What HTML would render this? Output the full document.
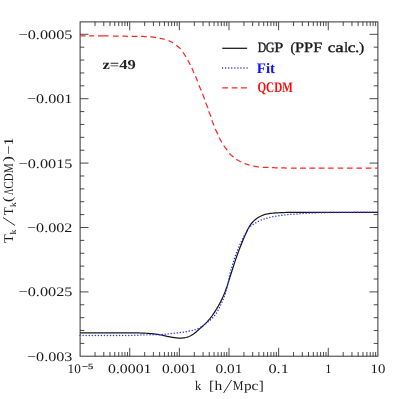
<!DOCTYPE html>
<html><head><meta charset="utf-8"><title>chart</title>
<style>
html,body{margin:0;padding:0;background:#fff;}
body{width:399px;height:399px;position:relative;overflow:hidden;font-family:"Liberation Serif",serif;}
</style></head><body>
<svg width="399" height="399" viewBox="0 0 399 399" style="position:absolute;left:0;top:0;will-change:transform">
<rect width="399" height="399" fill="#fff"/>
<path d="M95.04,356.2 v-4.2 M95.04,21.9 v4.2 M103.78,356.2 v-4.2 M103.78,21.9 v4.2 M109.98,356.2 v-4.2 M109.98,21.9 v4.2 M114.79,356.2 v-4.2 M114.79,21.9 v4.2 M118.72,356.2 v-4.2 M118.72,21.9 v4.2 M122.05,356.2 v-4.2 M122.05,21.9 v4.2 M124.92,356.2 v-4.2 M124.92,21.9 v4.2 M127.46,356.2 v-4.2 M127.46,21.9 v4.2 M129.73,356.2 v-8.4 M129.73,21.9 v8.4 M144.67,356.2 v-4.2 M144.67,21.9 v4.2 M153.41,356.2 v-4.2 M153.41,21.9 v4.2 M159.62,356.2 v-4.2 M159.62,21.9 v4.2 M164.43,356.2 v-4.2 M164.43,21.9 v4.2 M168.36,356.2 v-4.2 M168.36,21.9 v4.2 M171.68,356.2 v-4.2 M171.68,21.9 v4.2 M174.56,356.2 v-4.2 M174.56,21.9 v4.2 M177.10,356.2 v-4.2 M177.10,21.9 v4.2 M179.37,356.2 v-8.4 M179.37,21.9 v8.4 M194.31,356.2 v-4.2 M194.31,21.9 v4.2 M203.05,356.2 v-4.2 M203.05,21.9 v4.2 M209.25,356.2 v-4.2 M209.25,21.9 v4.2 M214.06,356.2 v-4.2 M214.06,21.9 v4.2 M217.99,356.2 v-4.2 M217.99,21.9 v4.2 M221.31,356.2 v-4.2 M221.31,21.9 v4.2 M224.19,356.2 v-4.2 M224.19,21.9 v4.2 M226.73,356.2 v-4.2 M226.73,21.9 v4.2 M229.00,356.2 v-8.4 M229.00,21.9 v8.4 M243.94,356.2 v-4.2 M243.94,21.9 v4.2 M252.68,356.2 v-4.2 M252.68,21.9 v4.2 M258.88,356.2 v-4.2 M258.88,21.9 v4.2 M263.69,356.2 v-4.2 M263.69,21.9 v4.2 M267.62,356.2 v-4.2 M267.62,21.9 v4.2 M270.95,356.2 v-4.2 M270.95,21.9 v4.2 M273.82,356.2 v-4.2 M273.82,21.9 v4.2 M276.36,356.2 v-4.2 M276.36,21.9 v4.2 M278.63,356.2 v-8.4 M278.63,21.9 v8.4 M293.57,356.2 v-4.2 M293.57,21.9 v4.2 M302.31,356.2 v-4.2 M302.31,21.9 v4.2 M308.52,356.2 v-4.2 M308.52,21.9 v4.2 M313.33,356.2 v-4.2 M313.33,21.9 v4.2 M317.26,356.2 v-4.2 M317.26,21.9 v4.2 M320.58,356.2 v-4.2 M320.58,21.9 v4.2 M323.46,356.2 v-4.2 M323.46,21.9 v4.2 M326.00,356.2 v-4.2 M326.00,21.9 v4.2 M328.27,356.2 v-8.4 M328.27,21.9 v8.4 M343.21,356.2 v-4.2 M343.21,21.9 v4.2 M351.95,356.2 v-4.2 M351.95,21.9 v4.2 M358.15,356.2 v-4.2 M358.15,21.9 v4.2 M362.96,356.2 v-4.2 M362.96,21.9 v4.2 M366.89,356.2 v-4.2 M366.89,21.9 v4.2 M370.21,356.2 v-4.2 M370.21,21.9 v4.2 M373.09,356.2 v-4.2 M373.09,21.9 v4.2 M375.63,356.2 v-4.2 M375.63,21.9 v4.2 M80.1,343.42 h4.2 M377.9,343.42 h-4.2 M80.1,330.54 h4.2 M377.9,330.54 h-4.2 M80.1,317.66 h4.2 M377.9,317.66 h-4.2 M80.1,304.78 h4.2 M377.9,304.78 h-4.2 M80.1,291.90 h8.4 M377.9,291.90 h-8.4 M80.1,279.02 h4.2 M377.9,279.02 h-4.2 M80.1,266.14 h4.2 M377.9,266.14 h-4.2 M80.1,253.26 h4.2 M377.9,253.26 h-4.2 M80.1,240.38 h4.2 M377.9,240.38 h-4.2 M80.1,227.50 h8.4 M377.9,227.50 h-8.4 M80.1,214.62 h4.2 M377.9,214.62 h-4.2 M80.1,201.74 h4.2 M377.9,201.74 h-4.2 M80.1,188.86 h4.2 M377.9,188.86 h-4.2 M80.1,175.98 h4.2 M377.9,175.98 h-4.2 M80.1,163.10 h8.4 M377.9,163.10 h-8.4 M80.1,150.22 h4.2 M377.9,150.22 h-4.2 M80.1,137.34 h4.2 M377.9,137.34 h-4.2 M80.1,124.46 h4.2 M377.9,124.46 h-4.2 M80.1,111.58 h4.2 M377.9,111.58 h-4.2 M80.1,98.70 h8.4 M377.9,98.70 h-8.4 M80.1,85.82 h4.2 M377.9,85.82 h-4.2 M80.1,72.94 h4.2 M377.9,72.94 h-4.2 M80.1,60.06 h4.2 M377.9,60.06 h-4.2 M80.1,47.18 h4.2 M377.9,47.18 h-4.2 M80.1,34.30 h8.4 M377.9,34.30 h-8.4" stroke="#2a2a2a" stroke-width="0.85" fill="none"/>
<rect x="80.1" y="21.9" width="297.80" height="334.30" fill="none" stroke="#2a2a2a" stroke-width="0.95"/>
<path d="M80.10,332.90 L81.10,332.90 L82.10,332.89 L83.10,332.89 L84.10,332.88 L85.10,332.88 L86.10,332.87 L87.10,332.87 L88.10,332.87 L89.10,332.86 L90.10,332.86 L91.10,332.86 L92.10,332.85 L93.10,332.85 L94.10,332.84 L95.10,332.84 L96.10,332.84 L97.10,332.84 L98.10,332.83 L99.10,332.83 L100.10,332.83 L101.10,332.82 L102.10,332.82 L103.10,332.82 L104.10,332.82 L105.10,332.82 L106.10,332.81 L107.10,332.81 L108.10,332.81 L109.10,332.81 L110.10,332.81 L111.10,332.81 L112.10,332.80 L113.10,332.80 L114.10,332.80 L115.10,332.80 L116.10,332.80 L117.10,332.80 L118.10,332.80 L119.10,332.80 L120.10,332.80 L121.10,332.80 L122.10,332.80 L123.10,332.80 L124.10,332.80 L125.10,332.80 L126.10,332.80 L127.10,332.80 L128.10,332.80 L129.10,332.80 L130.10,332.80 L131.10,332.80 L132.10,332.81 L133.10,332.83 L134.10,332.84 L135.10,332.87 L136.10,332.89 L137.10,332.92 L138.10,332.95 L139.10,332.97 L140.10,333.00 L141.10,333.03 L142.10,333.07 L143.10,333.11 L144.10,333.15 L145.10,333.20 L146.10,333.25 L147.10,333.31 L148.10,333.37 L149.10,333.44 L150.10,333.51 L151.10,333.59 L152.10,333.68 L153.10,333.79 L154.10,333.91 L155.10,334.04 L156.10,334.18 L157.10,334.33 L158.10,334.49 L159.10,334.65 L160.10,334.82 L161.10,335.01 L162.10,335.23 L163.10,335.47 L164.10,335.70 L165.10,335.92 L166.10,336.13 L167.10,336.34 L168.10,336.54 L169.10,336.73 L170.10,336.92 L171.10,337.10 L172.10,337.28 L173.10,337.44 L174.10,337.59 L175.10,337.71 L176.10,337.82 L177.10,337.93 L178.10,338.02 L179.10,338.08 L180.10,338.10 L181.10,338.08 L182.10,338.04 L183.10,337.97 L184.10,337.89 L185.10,337.74 L186.10,337.50 L187.10,337.20 L188.10,336.87 L189.10,336.47 L190.10,335.98 L191.10,335.43 L192.10,334.84 L193.10,334.19 L194.10,333.48 L195.10,332.71 L196.10,331.92 L197.10,331.09 L198.10,330.21 L199.10,329.31 L200.10,328.41 L201.10,327.54 L202.10,326.67 L203.10,325.78 L204.10,324.87 L205.10,323.90 L206.10,322.89 L207.10,321.84 L208.10,320.74 L209.10,319.58 L210.10,318.38 L211.10,317.10 L212.10,315.75 L213.10,314.33 L214.10,312.86 L215.10,311.35 L216.10,309.78 L217.10,308.15 L218.10,306.45 L219.10,304.67 L220.10,302.81 L221.10,300.85 L222.10,298.78 L223.10,296.59 L224.10,294.26 L225.10,291.75 L226.10,289.06 L227.10,286.21 L228.10,283.13 L229.10,279.90 L230.10,276.68 L231.10,273.52 L232.10,270.36 L233.10,267.23 L234.10,264.15 L235.10,261.09 L236.10,258.09 L237.10,255.22 L238.10,252.48 L239.10,249.83 L240.10,247.26 L241.10,244.75 L242.10,242.28 L243.10,239.85 L244.10,237.51 L245.10,235.28 L246.10,233.08 L247.10,230.89 L248.10,228.82 L249.10,226.94 L250.10,225.36 L251.10,223.98 L252.10,222.73 L253.10,221.60 L254.10,220.60 L255.10,219.72 L256.10,218.93 L257.10,218.21 L258.10,217.56 L259.10,216.97 L260.10,216.45 L261.10,215.97 L262.10,215.52 L263.10,215.12 L264.10,214.77 L265.10,214.47 L266.10,214.22 L267.10,214.00 L268.10,213.80 L269.10,213.63 L270.10,213.49 L271.10,213.36 L272.10,213.25 L273.10,213.15 L274.10,213.07 L275.10,212.99 L276.10,212.93 L277.10,212.86 L278.10,212.80 L279.10,212.75 L280.10,212.69 L281.10,212.65 L282.10,212.60 L283.10,212.56 L284.10,212.53 L285.10,212.50 L286.10,212.47 L287.10,212.44 L288.10,212.41 L289.10,212.39 L290.10,212.36 L291.10,212.34 L292.10,212.32 L293.10,212.31 L294.10,212.30 L295.10,212.30 L296.10,212.30 L297.10,212.30 L298.10,212.30 L299.10,212.30 L300.10,212.30 L301.10,212.30 L302.10,212.30 L303.10,212.30 L304.10,212.30 L305.10,212.30 L306.10,212.30 L307.10,212.30 L308.10,212.30 L309.10,212.30 L310.10,212.30 L311.10,212.30 L312.10,212.30 L313.10,212.30 L314.10,212.30 L315.10,212.30 L316.10,212.30 L317.10,212.30 L318.10,212.30 L319.10,212.30 L320.10,212.30 L321.10,212.30 L322.10,212.30 L323.10,212.30 L324.10,212.30 L325.10,212.30 L326.10,212.30 L327.10,212.30 L328.10,212.30 L329.10,212.30 L330.10,212.30 L331.10,212.30 L332.10,212.30 L333.10,212.30 L334.10,212.30 L335.10,212.30 L336.10,212.30 L337.10,212.30 L338.10,212.30 L339.10,212.30 L340.10,212.30 L341.10,212.30 L342.10,212.30 L343.10,212.30 L344.10,212.30 L345.10,212.30 L346.10,212.30 L347.10,212.30 L348.10,212.30 L349.10,212.30 L350.10,212.30 L351.10,212.30 L352.10,212.30 L353.10,212.30 L354.10,212.30 L355.10,212.30 L356.10,212.30 L357.10,212.30 L358.10,212.30 L359.10,212.30 L360.10,212.30 L361.10,212.30 L362.10,212.30 L363.10,212.30 L364.10,212.30 L365.10,212.30 L366.10,212.30 L367.10,212.30 L368.10,212.30 L369.10,212.30 L370.10,212.30 L371.10,212.30 L372.10,212.30 L373.10,212.30 L374.10,212.30 L375.10,212.30 L376.10,212.30 L377.90,212.30" stroke="#181818" stroke-width="1.25" fill="none" stroke-linejoin="round"/>
<path d="M80.10,335.50 L81.10,335.50 L82.10,335.49 L83.10,335.49 L84.10,335.48 L85.10,335.48 L86.10,335.47 L87.10,335.47 L88.10,335.47 L89.10,335.46 L90.10,335.46 L91.10,335.46 L92.10,335.45 L93.10,335.45 L94.10,335.44 L95.10,335.44 L96.10,335.44 L97.10,335.44 L98.10,335.43 L99.10,335.43 L100.10,335.43 L101.10,335.42 L102.10,335.42 L103.10,335.42 L104.10,335.42 L105.10,335.42 L106.10,335.41 L107.10,335.41 L108.10,335.41 L109.10,335.41 L110.10,335.41 L111.10,335.41 L112.10,335.40 L113.10,335.40 L114.10,335.40 L115.10,335.40 L116.10,335.40 L117.10,335.40 L118.10,335.40 L119.10,335.40 L120.10,335.40 L121.10,335.40 L122.10,335.40 L123.10,335.40 L124.10,335.40 L125.10,335.40 L126.10,335.40 L127.10,335.40 L128.10,335.40 L129.10,335.40 L130.10,335.40 L131.10,335.39 L132.10,335.38 L133.10,335.35 L134.10,335.32 L135.10,335.28 L136.10,335.24 L137.10,335.20 L138.10,335.17 L139.10,335.13 L140.10,335.10 L141.10,335.07 L142.10,335.03 L143.10,335.00 L144.10,334.96 L145.10,334.93 L146.10,334.90 L147.10,334.87 L148.10,334.84 L149.10,334.82 L150.10,334.80 L151.10,334.79 L152.10,334.78 L153.10,334.77 L154.10,334.76 L155.10,334.76 L156.10,334.75 L157.10,334.74 L158.10,334.73 L159.10,334.72 L160.10,334.70 L161.10,334.64 L162.10,334.55 L163.10,334.43 L164.10,334.30 L165.10,334.19 L166.10,334.09 L167.10,333.99 L168.10,333.89 L169.10,333.79 L170.10,333.69 L171.10,333.59 L172.10,333.49 L173.10,333.40 L174.10,333.30 L175.10,333.19 L176.10,333.08 L177.10,332.96 L178.10,332.84 L179.10,332.72 L180.10,332.59 L181.10,332.46 L182.10,332.33 L183.10,332.19 L184.10,332.04 L185.10,331.88 L186.10,331.71 L187.10,331.51 L188.10,331.31 L189.10,331.10 L190.10,330.88 L191.10,330.66 L192.10,330.44 L193.10,330.21 L194.10,329.96 L195.10,329.67 L196.10,329.33 L197.10,328.94 L198.10,328.51 L199.10,328.05 L200.10,327.55 L201.10,326.99 L202.10,326.36 L203.10,325.68 L204.10,324.95 L205.10,324.12 L206.10,323.25 L207.10,322.42 L208.10,321.66 L209.10,320.93 L210.10,320.18 L211.10,319.36 L212.10,318.43 L213.10,317.40 L214.10,316.28 L215.10,315.03 L216.10,313.64 L217.10,312.01 L218.10,310.23 L219.10,308.37 L220.10,306.36 L221.10,304.22 L222.10,301.95 L223.10,299.51 L224.10,296.95 L225.10,294.20 L226.10,291.08 L227.10,287.53 L228.10,283.06 L229.10,277.43 L230.10,273.00 L231.10,269.52 L232.10,266.31 L233.10,262.98 L234.10,259.61 L235.10,256.44 L236.10,253.66 L237.10,251.15 L238.10,248.81 L239.10,246.57 L240.10,244.32 L241.10,242.06 L242.10,239.84 L243.10,237.71 L244.10,235.73 L245.10,233.92 L246.10,232.15 L247.10,230.45 L248.10,228.89 L249.10,227.56 L250.10,226.51 L251.10,225.69 L252.10,225.00 L253.10,224.39 L254.10,223.82 L255.10,223.24 L256.10,222.65 L257.10,222.07 L258.10,221.52 L259.10,221.01 L260.10,220.56 L261.10,220.15 L262.10,219.77 L263.10,219.42 L264.10,219.09 L265.10,218.77 L266.10,218.46 L267.10,218.17 L268.10,217.89 L269.10,217.63 L270.10,217.38 L271.10,217.13 L272.10,216.89 L273.10,216.67 L274.10,216.46 L275.10,216.28 L276.10,216.13 L277.10,215.98 L278.10,215.85 L279.10,215.72 L280.10,215.59 L281.10,215.44 L282.10,215.29 L283.10,215.15 L284.10,215.01 L285.10,214.89 L286.10,214.77 L287.10,214.67 L288.10,214.56 L289.10,214.47 L290.10,214.39 L291.10,214.33 L292.10,214.27 L293.10,214.21 L294.10,214.16 L295.10,214.09 L296.10,214.02 L297.10,213.94 L298.10,213.85 L299.10,213.76 L300.10,213.67 L301.10,213.58 L302.10,213.49 L303.10,213.42 L304.10,213.35 L305.10,213.30 L306.10,213.25 L307.10,213.20 L308.10,213.16 L309.10,213.12 L310.10,213.09 L311.10,213.05 L312.10,213.02 L313.10,212.99 L314.10,212.96 L315.10,212.93 L316.10,212.90 L317.10,212.87 L318.10,212.85 L319.10,212.82 L320.10,212.80 L321.10,212.77 L322.10,212.75 L323.10,212.72 L324.10,212.69 L325.10,212.67 L326.10,212.64 L327.10,212.62 L328.10,212.59 L329.10,212.57 L330.10,212.55 L331.10,212.53 L332.10,212.50 L333.10,212.49 L334.10,212.47 L335.10,212.45 L336.10,212.44 L337.10,212.42 L338.10,212.41 L339.10,212.41 L340.10,212.40 L341.10,212.39 L342.10,212.39 L343.10,212.38 L344.10,212.38 L345.10,212.38 L346.10,212.37 L347.10,212.37 L348.10,212.36 L349.10,212.36 L350.10,212.36 L351.10,212.35 L352.10,212.35 L353.10,212.34 L354.10,212.34 L355.10,212.34 L356.10,212.33 L357.10,212.33 L358.10,212.33 L359.10,212.33 L360.10,212.32 L361.10,212.32 L362.10,212.32 L363.10,212.32 L364.10,212.31 L365.10,212.31 L366.10,212.31 L367.10,212.31 L368.10,212.31 L369.10,212.31 L370.10,212.30 L371.10,212.30 L372.10,212.30 L373.10,212.30 L374.10,212.30 L375.10,212.30 L376.10,212.30 L377.90,212.30" stroke="#2626ff" stroke-width="1.45" stroke-dasharray="0.01 3.03" stroke-linecap="round" fill="none"/>
<path d="M80.00,35.90 L80.50,35.90 L81.00,35.90 L81.50,35.90 L82.00,35.90 L82.50,35.90 L83.00,35.90 L83.50,35.90 L84.00,35.90 L84.50,35.90 L85.00,35.90 L85.50,35.90 M89.25,35.90 L89.75,35.90 L90.25,35.90 L90.75,35.90 L91.25,35.90 L91.75,35.90 L92.25,35.90 L92.75,35.90 L93.25,35.90 L93.75,35.90 L94.25,35.90 M98.00,35.90 L98.50,35.90 L99.01,35.90 L99.51,35.90 L100.02,35.90 L100.52,35.90 L101.03,35.90 L101.53,35.90 L102.04,35.91 L102.54,35.91 L103.05,35.91 L103.55,35.91 L104.06,35.92 L104.56,35.92 L105.07,35.93 L105.57,35.93 L106.08,35.94 L106.58,35.95 L107.09,35.95 L107.59,35.96 L108.10,35.97 L108.60,35.98 M113.00,36.05 L113.51,36.06 L114.02,36.07 L114.53,36.08 L115.04,36.09 L115.55,36.10 L116.05,36.11 L116.56,36.12 L117.07,36.12 L117.58,36.13 L118.09,36.14 L118.60,36.15 M122.40,36.20 L122.91,36.21 L123.42,36.22 L123.93,36.22 L124.44,36.23 L124.95,36.23 L125.45,36.24 L125.96,36.25 L126.47,36.25 L126.98,36.26 L127.49,36.26 L128.00,36.27 M131.75,36.31 L132.26,36.31 L132.78,36.32 L133.29,36.33 L133.80,36.33 L134.32,36.34 L134.83,36.35 L135.35,36.35 L135.86,36.36 L136.37,36.37 L136.89,36.37 L137.40,36.38 M141.10,36.44 L141.61,36.45 L142.13,36.46 L142.64,36.47 L143.15,36.48 L143.67,36.49 L144.18,36.51 L144.70,36.52 L145.21,36.54 L145.72,36.56 L146.24,36.59 L146.75,36.61 M150.25,36.85 L150.78,36.90 L151.31,36.94 L151.85,36.99 L152.38,37.04 L152.91,37.09 L153.44,37.15 L153.97,37.21 L154.50,37.28 L155.04,37.35 L155.57,37.43 L156.10,37.52 M159.60,38.17 L160.12,38.27 L160.63,38.38 L161.14,38.49 L161.66,38.61 L162.18,38.73 L162.69,38.86 L163.20,38.99 L163.72,39.12 L164.24,39.26 L164.75,39.40 M168.50,40.60 L169.01,40.80 L169.52,41.02 L170.03,41.25 L170.54,41.50 L171.06,41.75 L171.57,42.02 L172.08,42.30 L172.59,42.60 L173.10,42.90 M176.25,45.25 L176.79,45.68 L177.34,46.10 L177.88,46.52 L178.43,46.96 L178.97,47.42 L179.51,47.90 L180.06,48.43 L180.60,49.00 M182.90,52.25 L183.42,53.00 L183.93,53.75 L184.45,54.50 L184.97,55.28 L185.48,56.07 L186.00,56.90 M187.75,60.00 L188.28,60.97 L188.81,61.95 L189.34,62.95 L189.87,63.96 L190.40,65.00 M191.90,68.10 L192.43,69.31 L192.95,70.59 L193.47,71.88 L194.00,73.10 M195.50,76.25 L196.03,77.43 L196.55,78.65 L197.07,79.92 L197.60,81.26 M199.00,85.25 L199.56,86.65 L200.12,87.97 L200.69,89.26 L201.25,90.60 M202.50,93.75 L203.03,95.11 L203.55,96.49 L204.07,97.91 L204.60,99.40 M205.60,102.50 L206.18,103.94 L206.75,105.22 L207.32,106.54 L207.90,108.10 M208.75,111.25 L209.31,112.79 L209.88,114.09 L210.44,115.39 L211.00,116.90 M211.90,120.10 L212.43,121.58 L212.95,122.89 L213.47,124.16 L214.00,125.50 M215.25,129.00 L215.78,130.15 L216.31,131.17 L216.84,132.13 L217.37,133.13 L217.90,134.25 M219.10,137.40 L219.66,138.55 L220.22,139.58 L220.78,140.53 L221.34,141.46 L221.90,142.40 M223.75,145.50 L224.25,146.23 L224.75,146.93 L225.25,147.59 L225.75,148.25 L226.25,148.90 L226.75,149.56 L227.25,150.25 M229.40,153.40 L229.91,153.96 L230.43,154.48 L230.94,154.96 L231.45,155.41 L231.96,155.84 L232.47,156.26 L232.99,156.68 L233.50,157.10 M236.25,159.25 L236.75,159.57 L237.25,159.88 L237.75,160.17 L238.25,160.46 L238.75,160.73 L239.25,160.99 L239.75,161.25 L240.25,161.51 L240.75,161.75 L241.25,162.00 M244.60,163.50 L245.11,163.69 L245.62,163.87 L246.13,164.05 L246.64,164.22 L247.15,164.38 L247.66,164.54 L248.17,164.69 L248.68,164.84 L249.19,164.99 L249.70,165.13 M253.30,166.00 L253.82,166.11 L254.34,166.22 L254.85,166.32 L255.37,166.43 L255.89,166.53 L256.41,166.63 L256.93,166.72 L257.45,166.80 L257.96,166.88 L258.48,166.95 L259.00,167.00 M262.75,167.25 L263.27,167.28 L263.80,167.30 L264.32,167.33 L264.84,167.35 L265.36,167.38 L265.89,167.40 L266.41,167.42 L266.93,167.44 L267.45,167.46 L267.98,167.48 L268.50,167.50 M271.90,167.60 L272.43,167.62 L272.96,167.65 L273.50,167.68 L274.03,167.71 L274.56,167.75 L275.09,167.78 L275.62,167.81 L276.15,167.84 L276.69,167.87 L277.22,167.89 L277.75,167.90 M281.25,167.96 L281.76,167.96 L282.28,167.97 L282.79,167.98 L283.30,167.98 L283.82,167.99 L284.33,167.99 L284.85,167.99 L285.36,168.00 L285.87,168.00 L286.39,168.00 L286.90,168.00 M291.00,168.00 L291.51,168.00 L292.02,168.00 L292.53,168.00 L293.04,168.00 L293.55,168.00 L294.05,168.00 L294.56,168.00 L295.07,168.00 L295.58,168.00 L296.09,168.00 L296.60,168.00 M300.00,168.00 L300.54,168.00 L301.07,168.00 L301.61,168.00 L302.15,168.00 L302.68,168.00 L303.22,168.00 L303.75,168.00 L304.29,168.00 L304.83,168.00 L305.36,168.00 L305.90,168.00 M309.40,168.00 L309.93,168.00 L310.46,168.00 L311.00,168.00 L311.53,168.00 L312.06,168.00 L312.59,168.00 L313.12,168.00 L313.65,168.00 L314.19,168.00 L314.72,168.00 L315.25,168.00 M318.75,168.00 L319.28,168.00 L319.81,168.00 L320.35,168.00 L320.88,168.00 L321.41,168.00 L321.94,168.00 L322.47,168.00 L323.00,168.00 L323.54,168.00 L324.07,168.00 L324.60,168.00 M328.10,168.00 L328.61,168.00 L329.12,168.00 L329.63,168.00 L330.14,168.00 L330.65,168.00 L331.15,168.00 L331.66,168.00 L332.17,168.00 L332.68,168.00 L333.19,168.00 L333.70,168.00 M337.60,168.00 L338.11,168.00 L338.62,168.00 L339.13,168.00 L339.64,168.00 L340.15,168.00 L340.65,168.00 L341.16,168.00 L341.67,168.00 L342.18,168.00 L342.69,168.00 L343.20,168.00 M347.00,168.00 L347.51,168.00 L348.02,168.00 L348.53,168.00 L349.04,168.00 L349.55,168.00 L350.05,168.00 L350.56,168.00 L351.07,168.00 L351.58,168.00 L352.09,168.00 L352.60,168.00 M356.40,168.00 L356.91,168.00 L357.42,168.00 L357.93,168.00 L358.44,168.00 L358.95,168.00 L359.45,168.00 L359.96,168.00 L360.47,168.00 L360.98,168.00 L361.49,168.00 L362.00,168.00 M365.60,168.00 L366.13,168.00 L366.65,168.00 L367.18,168.00 L367.71,168.00 L368.24,168.00 L368.76,168.00 L369.29,168.00 L369.82,168.00 L370.35,168.00 L370.87,168.00 L371.40,168.00 M375.10,168.00 L375.66,168.00 L376.22,168.00 L376.78,168.00 L377.34,168.00 L377.90,168.00" stroke="#ff2626" stroke-width="1.25" fill="none" stroke-linejoin="round"/>
<path d="M222.3,48.3 H247.1" stroke="#151515" stroke-width="1.25"/>
<path d="M222.0,68 H247.6" stroke="#2222ee" stroke-width="1.3" stroke-dasharray="1.1 1.97"/>
<path d="M222.3,87.9 H228.1 M231.7,87.9 H237.5 M240.9,87.9 H246.9" stroke="#ff2626" stroke-width="1.25"/>
<g font-family="Liberation Serif, serif" text-rendering="geometricPrecision">
<text x="18.60000000000001" y="38.8" font-size="13.0" text-anchor="start" fill="#1a1a1a" font-weight="normal" textLength="53.8" lengthAdjust="spacingAndGlyphs">−0.0005</text>
<text x="27.000000000000007" y="103.2" font-size="13.0" text-anchor="start" fill="#1a1a1a" font-weight="normal" textLength="45.4" lengthAdjust="spacingAndGlyphs">−0.001</text>
<text x="18.60000000000001" y="167.6" font-size="13.0" text-anchor="start" fill="#1a1a1a" font-weight="normal" textLength="53.8" lengthAdjust="spacingAndGlyphs">−0.0015</text>
<text x="27.000000000000007" y="232.0" font-size="13.0" text-anchor="start" fill="#1a1a1a" font-weight="normal" textLength="45.4" lengthAdjust="spacingAndGlyphs">−0.002</text>
<text x="18.60000000000001" y="296.4" font-size="13.0" text-anchor="start" fill="#1a1a1a" font-weight="normal" textLength="53.8" lengthAdjust="spacingAndGlyphs">−0.0025</text>
<text x="27.000000000000007" y="360.9" font-size="13.0" text-anchor="start" fill="#1a1a1a" font-weight="normal" textLength="45.4" lengthAdjust="spacingAndGlyphs">−0.003</text>
<text x="108.03" y="372.7" font-size="13.0" text-anchor="start" fill="#1a1a1a" font-weight="normal" textLength="43.4" lengthAdjust="spacingAndGlyphs">0.0001</text>
<text x="161.97" y="372.7" font-size="13.0" text-anchor="start" fill="#1a1a1a" font-weight="normal" textLength="34.8" lengthAdjust="spacingAndGlyphs">0.001</text>
<text x="215.6" y="372.7" font-size="13.0" text-anchor="start" fill="#1a1a1a" font-weight="normal" textLength="26.8" lengthAdjust="spacingAndGlyphs">0.01</text>
<text x="268.43" y="372.7" font-size="13.0" text-anchor="start" fill="#1a1a1a" font-weight="normal" textLength="20.4" lengthAdjust="spacingAndGlyphs">0.1</text>
<text x="325.17" y="372.7" font-size="13.0" text-anchor="start" fill="#1a1a1a" font-weight="normal" textLength="6.2" lengthAdjust="spacingAndGlyphs">1</text>
<text x="370.5" y="372.7" font-size="13.0" text-anchor="start" fill="#1a1a1a" font-weight="normal" textLength="14.8" lengthAdjust="spacingAndGlyphs">10</text>
<text x="67.6" y="372.7" font-size="13.0" text-anchor="start" fill="#1a1a1a" font-weight="normal" textLength="13.2" lengthAdjust="spacingAndGlyphs">10</text>
<text x="82.0" y="369.2" font-size="8.0" text-anchor="start" fill="#1a1a1a" font-weight="normal" textLength="11.2" lengthAdjust="spacingAndGlyphs" stroke="#1a1a1a" stroke-width="0.2">−5</text>
<text x="102.5" y="68.75" font-size="13.5" text-anchor="start" fill="#262626" font-weight="bold" textLength="33.4" lengthAdjust="spacingAndGlyphs">z=49</text>
<text x="256.8" y="72.8" font-size="14.5" text-anchor="start" fill="#1212fa" font-weight="bold" textLength="18.3" lengthAdjust="spacingAndGlyphs">Fit</text>
<text x="257.4" y="91.8" font-size="14.6" text-anchor="start" fill="#fc0c0c" font-weight="bold" textLength="35.4" lengthAdjust="spacingAndGlyphs">QCDM</text>
<g transform="translate(13.0,243) rotate(-90)">
<path d="M17.6,2.0 L25.5,-10.0" stroke="#1a1a1a" stroke-width="0.9" fill="none"/>
<text transform="translate(-0.06,0.00) scale(1.062,1)" font-size="13.4" fill="#1a1a1a">T</text>
<text transform="translate(8.61,3.40) scale(1.134,1)" font-size="8.8" fill="#1a1a1a">k</text>
<text transform="translate(27.66,0.00) scale(0.971,1)" font-size="13.4" fill="#1a1a1a">T</text>
<text transform="translate(36.02,3.40) scale(1.063,1)" font-size="8.8" fill="#1a1a1a">k</text>
<text transform="translate(40.85,-0.80) scale(1.278,1)" font-size="13.4" fill="#1a1a1a">(</text>
<text transform="translate(47.91,0.00) scale(0.656,1)" font-size="13.4" fill="#1a1a1a">Λ</text>
<text transform="translate(54.13,0.00) scale(0.850,1)" font-size="13.4" fill="#1a1a1a">C</text>
<text transform="translate(61.79,0.00) scale(0.811,1)" font-size="13.4" fill="#1a1a1a">D</text>
<text transform="translate(70.09,0.00) scale(0.808,1)" font-size="13.4" fill="#1a1a1a">M</text>
<text transform="translate(81.02,-0.80) scale(1.337,1)" font-size="13.4" fill="#1a1a1a">)</text>
<text transform="translate(88.40,0.00) scale(1.203,1)" font-size="13.4" fill="#1a1a1a">−</text>
<text transform="translate(97.58,0.00) scale(1.208,1)" font-size="13.4" fill="#1a1a1a">1</text>
</g>
<g transform="translate(0,52.3)">
<text transform="translate(257.66,0.00) scale(0.830,1)" font-size="14.2" fill="#1a1a1a" stroke="#1a1a1a" stroke-width="0.36">D</text>
<text transform="translate(265.80,0.00) scale(0.856,1)" font-size="14.2" fill="#1a1a1a" stroke="#1a1a1a" stroke-width="0.36">G</text>
<text transform="translate(274.33,0.00) scale(1.142,1)" font-size="14.2" fill="#1a1a1a" stroke="#1a1a1a" stroke-width="0.36">P</text>
<text transform="translate(290.38,-0.60) scale(0.987,1)" font-size="14.2" fill="#1a1a1a" stroke="#1a1a1a" stroke-width="0.36">(</text>
<text transform="translate(295.03,0.00) scale(1.142,1)" font-size="14.2" fill="#1a1a1a" stroke="#1a1a1a" stroke-width="0.36">P</text>
<text transform="translate(304.03,0.00) scale(1.142,1)" font-size="14.2" fill="#1a1a1a" stroke="#1a1a1a" stroke-width="0.36">P</text>
<text transform="translate(313.13,0.00) scale(1.147,1)" font-size="14.2" fill="#1a1a1a" stroke="#1a1a1a" stroke-width="0.36">F</text>
<text transform="translate(327.75,0.00) scale(1.202,1)" font-size="14.2" fill="#1a1a1a" stroke="#1a1a1a" stroke-width="0.36">c</text>
<text transform="translate(335.23,0.00) scale(1.337,1)" font-size="14.2" fill="#1a1a1a" stroke="#1a1a1a" stroke-width="0.36">a</text>
<text transform="translate(344.13,0.00) scale(0.948,1)" font-size="14.2" fill="#1a1a1a" stroke="#1a1a1a" stroke-width="0.36">l</text>
<text transform="translate(347.73,0.00) scale(1.239,1)" font-size="14.2" fill="#1a1a1a" stroke="#1a1a1a" stroke-width="0.36">c</text>
<text transform="translate(354.88,0.00) scale(1.192,1)" font-size="14.2" fill="#1a1a1a" stroke="#1a1a1a" stroke-width="0.36">.</text>
<text transform="translate(359.10,-0.60) scale(1.097,1)" font-size="14.2" fill="#1a1a1a" stroke="#1a1a1a" stroke-width="0.36">)</text>
</g>
<g transform="translate(0,390)">
<path d="M223.6,3.0 L231.6,-10.0" stroke="#1a1a1a" stroke-width="0.9" fill="none"/>
<text transform="translate(194.96,0.00) scale(0.945,1)" font-size="13.2" fill="#1a1a1a">k</text>
<text transform="translate(209.07,-0.40) scale(1.157,1)" font-size="13.2" fill="#1a1a1a">[</text>
<text transform="translate(214.45,0.00) scale(1.175,1)" font-size="13.2" fill="#1a1a1a">h</text>
<text transform="translate(232.85,0.00) scale(0.912,1)" font-size="13.2" fill="#1a1a1a">M</text>
<text transform="translate(243.95,0.00) scale(1.158,1)" font-size="13.2" fill="#1a1a1a">p</text>
<text transform="translate(251.61,0.00) scale(1.172,1)" font-size="13.2" fill="#1a1a1a">c</text>
<text transform="translate(258.85,-0.40) scale(1.157,1)" font-size="13.2" fill="#1a1a1a">]</text>
</g>
</g>
</svg>
</body></html>
